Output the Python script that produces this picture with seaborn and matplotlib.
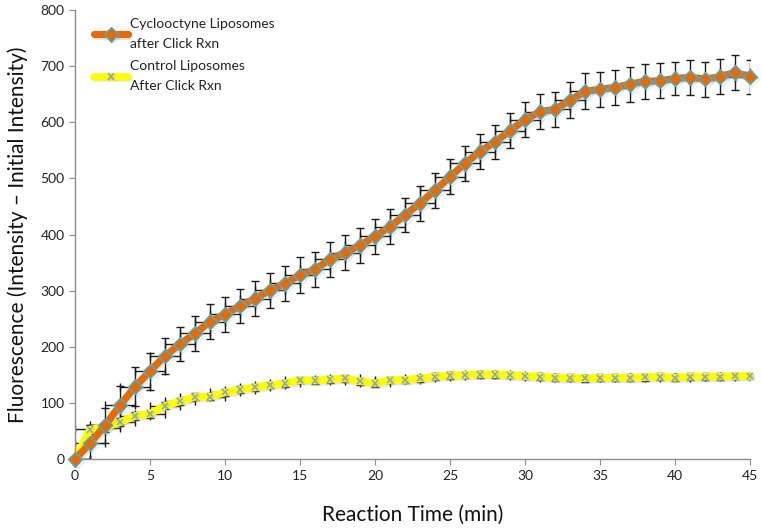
import matplotlib
matplotlib.use("Agg")
import matplotlib.pyplot as plt
import matplotlib.patheffects as pe
import seaborn as sns
import pandas as pd
import numpy as np

minutes = list(range(0, 46))

cyclooctyne = [0, 28, 60, 96, 129, 157, 184, 205, 224, 245,
               258, 273, 286, 301, 313, 328, 338, 356, 368, 381,
               397, 414, 435, 456, 479, 503, 527, 548, 565, 585,
               605, 619, 623, 639, 655, 659, 662, 668, 673, 674,
               678, 680, 677, 681, 689, 681]
cyclooctyne_err = [0, 32, 32, 34, 35, 33, 32, 31, 31, 31,
                   31, 31, 31, 31, 31, 32, 31, 31, 31, 31,
                   31, 31, 31, 31, 31, 31, 31, 31, 31, 31,
                   31, 31, 31, 32, 32, 31, 31, 31, 31, 31,
                   30, 31, 31, 31, 31, 30]

control = [0, 53, 56, 66, 77, 81, 95, 103, 111, 111,
           119, 124, 128, 132, 135, 141, 140, 142, 144, 139,
           135, 141, 141, 144, 147, 149, 150, 151, 151, 150,
           148, 147, 145, 145, 144, 145, 145, 145, 146, 147,
           145, 147, 147, 147, 148, 148]
control_err = [0, 8, 8, 7, 7, 7, 6, 6, 6, 6,
               6, 6, 6, 6, 6, 6, 6, 6, 6, 6,
               6, 6, 6, 6, 6, 6, 6, 6, 6, 6,
               6, 6, 6, 6, 6, 6, 6, 6, 6, 6,
               6, 6, 6, 6, 6, 6]
x_err = 1

labels = ["Cyclooctyne Liposomes\nafter Click Rxn", "Control Liposomes\nAfter Click Rxn"]

sns.set_style("white")
plt.rcParams['font.family'] = ['Lato', 'DejaVu Sans']

df = pd.DataFrame({
    "time": minutes * 2,
    "value": cyclooctyne + control,
    "series": [labels[0]] * len(minutes) + [labels[1]] * len(minutes),
})

fig = plt.figure(figsize=(7.62, 5.29), dpi=100)
ax = fig.add_axes([0.0984, 0.132, 0.8858, 0.849])

# error bars (behind lines)
ax.errorbar(minutes, cyclooctyne, yerr=cyclooctyne_err, xerr=x_err, fmt='none',
            ecolor='#1a1a1a', elinewidth=1.0, capsize=3.2, capthick=1.0, zorder=1)
ax.errorbar(minutes, control, yerr=control_err, xerr=x_err, fmt='none',
            ecolor='#1a1a1a', elinewidth=1.0, capsize=3.2, capthick=1.0, zorder=1)

shadow = [pe.SimpleLineShadow(offset=(1.2, -1.2), shadow_color='#9aa4ad', alpha=0.25), pe.Normal()]

sns.lineplot(data=df[df.series == labels[0]], x="time", y="value", ax=ax,
             color='#E36C0A', linewidth=5.2, marker='D', markersize=7.5,
             markerfacecolor='#E36C0A', markeredgecolor='#4BACC6', markeredgewidth=1.0,
             label=labels[0], zorder=3, path_effects=shadow, clip_on=False)
sns.lineplot(data=df[df.series == labels[1]], x="time", y="value", ax=ax,
             color='#FFFF00', linewidth=5.5, marker='x', markersize=4.5,
             markeredgecolor='#8AA9B5', markeredgewidth=1.2,
             label=labels[1], zorder=2, path_effects=shadow, clip_on=False)

ax.set_xlim(0, 45)
ax.set_ylim(0, 800)
ax.set_xticks(range(0, 46, 5))
ax.set_yticks(range(0, 801, 100))
ax.tick_params(axis='both', labelsize=10, colors='#222222', length=4, width=0.8,
               direction='out', bottom=True, left=True)
for s in ['top', 'right']:
    ax.spines[s].set_visible(False)
for s in ['left', 'bottom']:
    ax.spines[s].set_color('#8c8c8c')
    ax.spines[s].set_linewidth(1.0)
ax.tick_params(axis='both', color='#8c8c8c')

ax.set_xlabel("Reaction Time (min)", fontsize=15, color='#111111', labelpad=17)
ax.set_ylabel("Fluorescence (Intensity \u2013 Initial Intensity)", fontsize=15,
              color='#111111', labelpad=9)

leg = ax.legend(loc='upper left', bbox_to_anchor=(0.01, 1.01), frameon=False,
                fontsize=10, handlelength=2.4, handletextpad=0.2, labelspacing=0.75)
for t in leg.get_texts():
    t.set_linespacing(1.8)
    t.set_color('#222222')

fig.savefig("out.png", dpi=100)
